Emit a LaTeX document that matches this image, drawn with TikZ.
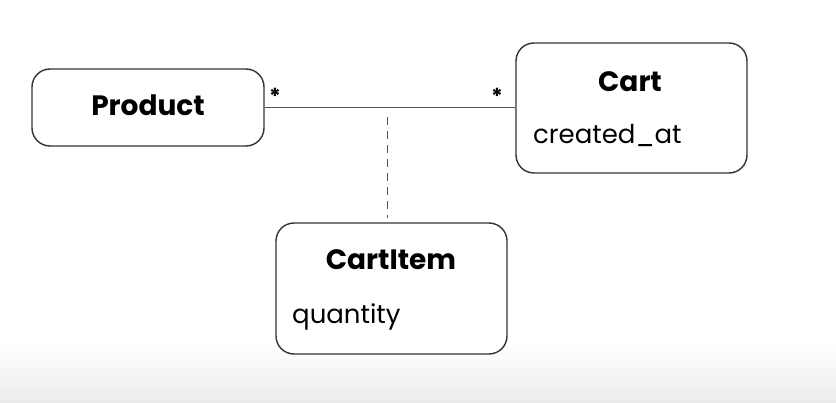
\documentclass[tikz,border=0pt]{standalone}
\usepackage{fontspec}
\setmainfont{Poppins}
\usepackage{tikz}
\usetikzlibrary{positioning, calc}
\definecolor{boxEdge}{HTML}{333333}
\definecolor{lineGray}{HTML}{555555}
\definecolor{floorGray}{HTML}{EBEBEB}
\tikzset{
    % Class boxes
    classBox/.style={rectangle, rounded corners=18pt, draw=boxEdge, line width=1.4pt, fill=white},
    className/.style={font=\bfseries\fontsize{28}{32}\selectfont, inner sep=0pt},
    classAttr/.style={font=\fontsize{26}{30}\selectfont, inner sep=0pt, anchor=west},
    % Connectors
    assocLine/.style={draw=lineGray, line width=1.1pt},
    assocDash/.style={draw=lineGray, line width=1pt, dash pattern=on 8pt off 6pt},
    multLabel/.style={font=\bfseries\fontsize{22}{26}\selectfont, inner sep=0pt}
}
\begin{document}
\begin{tikzpicture}[x=1pt, y=-1pt]
        \useasboundingbox (0,0) rectangle (836,403);
        % Floor
        \shade[top color=white, bottom color=floorGray] (0,345) rectangle (836,403);

        % Product
        \node[classBox, minimum width=232pt, minimum height=77pt] (product) at (148,107.5) {};
        \node[className] (productName) at (148,105) {Product};

        % Cart
        \node[classBox, minimum width=231pt, minimum height=130pt] (cart) at (631.5,108) {};
        \node[className] (cartName) at (630,82) {Cart};
        \node[classAttr] (cartAttr) at (533,135) {created\_at};

        % CartItem
        \node[classBox, minimum width=231pt, minimum height=131pt] (cartItem) at (391.5,288.5) {};
        \node[className] (cartItemName) at (391,260) {CartItem};
        \node[classAttr] (cartItemAttr) at (292,317) {quantity};

        % Association
        \draw[assocLine] (product.east) -- (product.east -| cart.west);
        \node[multLabel] (multProduct) at (275,96) {*};
        \node[multLabel] (multCart) at (497,96) {*};
        \coordinate (assocTop) at (387,117);
        \coordinate (assocEnd) at (387,218);
        \draw[assocDash] (assocTop) -- (assocEnd);
    \end{tikzpicture}
\end{document}
